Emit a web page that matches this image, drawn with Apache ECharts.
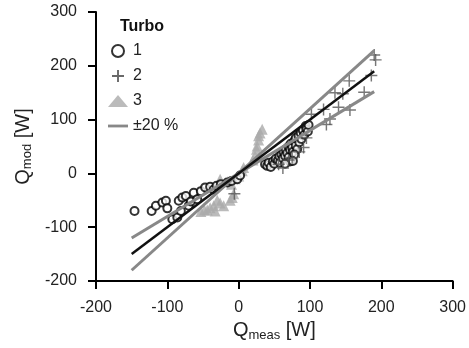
<!DOCTYPE html>
<html>
<head>
<meta charset="utf-8">
<script src="https://cdn.jsdelivr.net/npm/echarts@6/dist/echarts.min.js"></script>
<style>html,body{margin:0;padding:0;background:#fff}#c{width:469px;height:348px}</style>
</head>
<body>
<div id="c"></div>
<script>
// Turbo 1 (open circles)
const t1x = [-146,-122,-116,-107,-102,-100,-93,-86,-84,-79,-74,-81,-70,-67,-63,-58,-53,-47,-40,-35,-31,-25,-16,-10,-2,2,
  37,40,42,45,48,50,52,55,57,58,60,62,63,65,66,68,70,70,72,73,75,76,78,80,80,82,84,85,87,88,90,92,94,95,97,98,72,65,78,76];
const t1y = [-70,-70,-60,-54,-51,-65,-85,-82,-51,-45,-42,-70,-60,-52,-36,-48,-33,-26,-25,-30,-23,-20,-17,-14,-11,-4,
  17,14,20,12,22,18,27,24,32,20,35,28,40,33,45,38,50,30,44,55,48,40,60,52,66,45,70,58,75,64,80,72,88,82,78,90,22,18,35,23];
// Turbo 2 (plus)
const t2x = [56,75,91,95,102,119,123,128,135,140,146,155,156,176,186,190,192,62,70,85,-6];
const t2y = [17,29,48,66,110,119,91,101,150,123,148,172,118,151,182,220,211,10,25,40,-38];
// Turbo 3 (triangles)
const t3x = [-53,-48,-44,-40,-35,-33,-30,-26,-21,-12,-9,-7,-26,-15,-10,-5,0,5,7,20,23,25,26,28,28,30,33];
const t3y = [-71,-68,-68,-64,-60,-70,-50,-55,-60,-50,-45,-38,-11,-15,-20,-10,-5,5,11,25,33,45,51,62,70,75,82];
// reference lines
const lineX = [-150, 190];
const fitY = [-150, 190];
const upperY = [-180, 228];
const lowerY = [-120, 152];
// axis ticks
const xMin = -200, xMax = 300, yMin = -200, yMax = 300, step = 100;

const zip = (a, b) => a.map((v, i) => [v, b[i]]);
const FONT = 'Liberation Sans, Arial, sans-serif';
const plusPath = 'path://M4.4,0h1.2v4.4h4.4v1.2h-4.4v4.4h-1.2v-4.4h-4.4v-1.2h4.4z';
const legendPlus = 'path://M4.2,0h1.6v4.2h4.2v1.6h-4.2v4.2h-1.6v-4.2h-4.2v-1.6h4.2z';
const legendLine = 'path://M0,0M20,12M0,4.6H20V7.4H0Z';

const axisCommon = {
  type: 'value', interval: step,
  axisLine: {show: true, onZero: false, lineStyle: {color: '#000', width: 2}},
  axisTick: {show: true, length: 8, lineStyle: {color: '#000', width: 2}},
  splitLine: {show: false},
  axisLabel: {fontSize: 16, color: '#222', fontFamily: FONT},
  nameLocation: 'middle'
};
const nameRich = {
  q: {fontSize: 20, color: '#222', fontFamily: FONT},
  s: {fontSize: 13, color: '#222', fontFamily: FONT, verticalAlign: 'bottom', padding: [9, 0, 0, 0]}
};

const chart = echarts.init(document.getElementById('c'), null, {renderer: 'canvas'});
chart.setOption({
  animation: false,
  backgroundColor: '#fff',
  grid: {left: 96, top: 12, width: 358, height: 269, containLabel: false},
  graphic: [{type: 'text', left: 120, top: 19,
    style: {text: 'Turbo', font: 'bold 16px ' + FONT, fill: '#111'}}],
  legend: {
    orient: 'vertical', left: 108, top: 43, padding: 0,
    itemWidth: 20, itemHeight: 12, itemGap: 9, itemTextGap: 9,
    data: [
      {name: '1'},
      {name: '2', icon: legendPlus, itemStyle: {color: '#444'}},
      {name: '3'},
      {name: '±20 %', icon: legendLine, itemStyle: {color: '#888'}}
    ],
    textStyle: {fontSize: 16, color: '#222', fontFamily: FONT}
  },
  xAxis: Object.assign({}, axisCommon, {
    min: xMin, max: xMax,
    axisLabel: Object.assign({}, axisCommon.axisLabel, {margin: 19}),
    name: '{q|Q}{s|meas}{q| [W]}', nameGap: 31,
    nameTextStyle: {rich: nameRich}
  }),
  yAxis: Object.assign({}, axisCommon, {
    min: yMin, max: yMax,
    axisLabel: Object.assign({}, axisCommon.axisLabel, {margin: 19}),
    name: '{q|Q}{s|mod}{q| [W]}', nameGap: 62,
    nameTextStyle: {rich: nameRich}
  }),
  series: [
    {name: '1', type: 'scatter', data: zip(t1x, t1y), symbol: 'emptyCircle', symbolSize: 8,
      itemStyle: {color: '#000', borderColor: '#000', borderWidth: 1.3}, z: 3},
    {name: '2', type: 'scatter', data: zip(t2x, t2y), symbol: plusPath, symbolSize: 12,
      itemStyle: {color: '#555'}, z: 3},
    {name: '3', type: 'scatter', data: zip(t3x, t3y), symbol: 'triangle', symbolSize: 11,
      itemStyle: {color: '#aaa'}, z: 2},
    {name: 'fit', type: 'line', data: zip(lineX, fitY), symbol: 'none', silent: true,
      lineStyle: {color: '#111', width: 2.5}, z: 5},
    {name: '±20 %', type: 'line', data: zip(lineX, upperY), symbol: 'none', silent: true,
      itemStyle: {color: '#888'}, lineStyle: {color: '#888', width: 3}, z: 4},
    {name: '±20 %', type: 'line', data: zip(lineX, lowerY), symbol: 'none', silent: true,
      itemStyle: {color: '#888'}, lineStyle: {color: '#888', width: 3}, z: 4}
  ]
});
</script>
</body>
</html>
